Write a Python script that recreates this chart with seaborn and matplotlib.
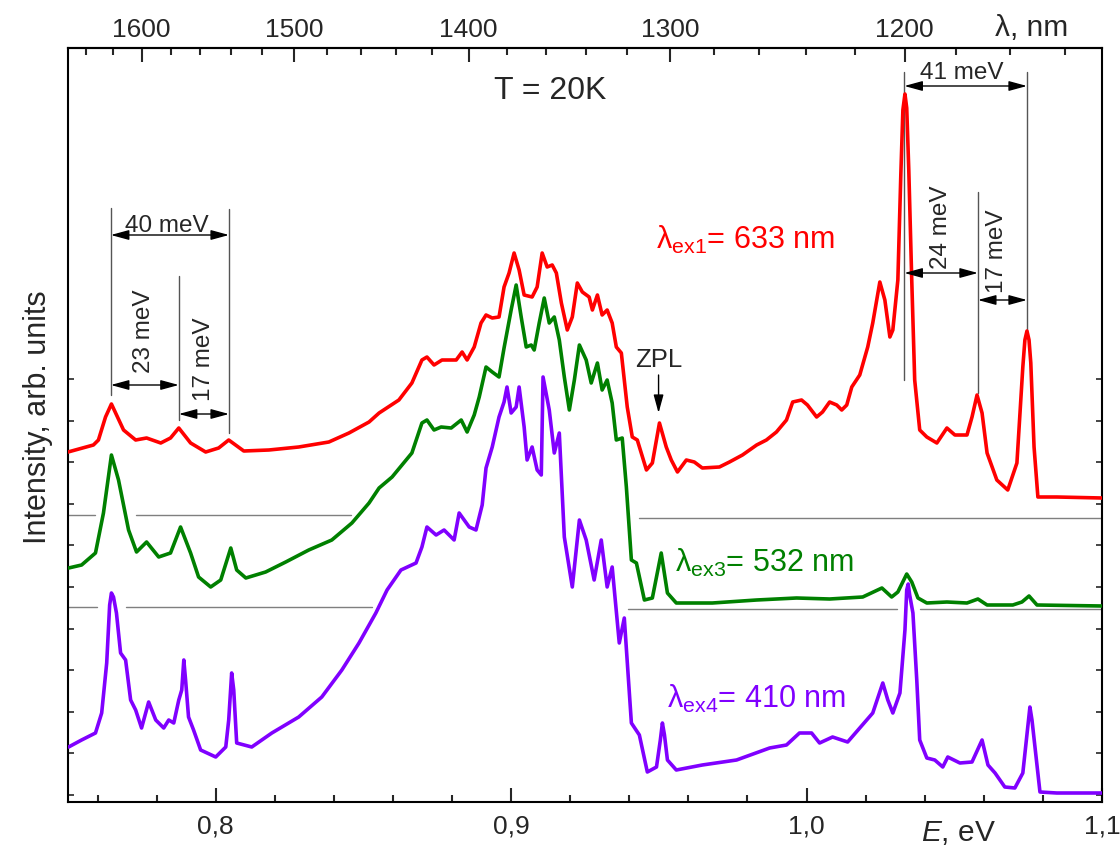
import numpy as np
import matplotlib
matplotlib.use("Agg")
import matplotlib.pyplot as plt
from matplotlib.ticker import FixedLocator, MultipleLocator, FuncFormatter, NullFormatter
import seaborn as sns

sns.set_style("ticks")
plt.rcParams['font.family'] = ['Liberation Sans', 'DejaVu Sans']
plt.rcParams['mathtext.fontset'] = 'custom'
plt.rcParams['mathtext.rm'] = 'Liberation Sans'
plt.rcParams['mathtext.it'] = 'Liberation Sans:italic'

# PL spectra, energy in eV, intensity in arb. units (curves already shifted)
energy_633 = [0.7500, 0.7586, 0.7603, 0.7627, 0.7647, 0.7688, 0.7729, 0.7766, 0.7814, 0.7847,
              0.7875, 0.7915, 0.7966, 0.8010, 0.8044, 0.8095, 0.8180, 0.8281, 0.8383, 0.8451,
              0.8519, 0.8553, 0.8620, 0.8664, 0.8698, 0.8715, 0.8739, 0.8766, 0.8814, 0.8834,
              0.8851, 0.8875, 0.8898, 0.8915, 0.8936, 0.8959, 0.8976, 0.8993, 0.9010, 0.9027,
              0.9044, 0.9071, 0.9088, 0.9105, 0.9122, 0.9139, 0.9153, 0.9170, 0.9190, 0.9207,
              0.9224, 0.9241, 0.9264, 0.9275, 0.9292, 0.9308, 0.9325, 0.9342, 0.9356, 0.9373,
              0.9393, 0.9410, 0.9427, 0.9458, 0.9478, 0.9502, 0.9525, 0.9542, 0.9563, 0.9593,
              0.9620, 0.9647, 0.9705, 0.9739, 0.9783, 0.9831, 0.9864, 0.9898, 0.9932, 0.9953,
              0.9983, 1.0003, 1.0034, 1.0054, 1.0078, 1.0102, 1.0119, 1.0136, 1.0153, 1.0180,
              1.0207, 1.0224, 1.0248, 1.0265, 1.0282, 1.0292, 1.0309, 1.0319, 1.0326, 1.0333,
              1.0339, 1.0346, 1.0356, 1.0366, 1.0383, 1.0407, 1.0441, 1.0475, 1.0502, 1.0543,
              1.0560, 1.0577, 1.0594, 1.0611, 1.0644, 1.0681, 1.0712, 1.0732, 1.0739, 1.0746,
              1.0753, 1.0759, 1.0770, 1.0783, 1.0847, 1.1000]
int_633 = [35.0, 35.7, 36.2, 38.5, 39.8, 37.2, 36.2, 36.4, 35.9, 36.4,
           37.4, 35.9, 35.0, 35.4, 36.2, 35.1, 35.2, 35.5, 36.0, 36.9,
           38.0, 38.9, 40.2, 41.9, 44.2, 44.5, 43.7, 44.2, 44.2, 45.0,
           44.2, 45.5, 47.9, 48.7, 48.4, 48.5, 51.5, 52.9, 54.9, 53.2,
           50.7, 50.5, 51.5, 54.9, 53.5, 53.7, 52.9, 49.9, 47.2, 48.5,
           51.9, 51.0, 50.5, 49.2, 50.7, 48.7, 49.2, 47.9, 45.5, 44.9,
           39.5, 36.5, 36.2, 33.2, 33.9, 37.9, 35.5, 34.2, 33.0, 34.2,
           34.0, 33.4, 33.5, 34.0, 34.7, 35.7, 36.2, 37.0, 38.2, 40.0,
           40.2, 39.7, 38.5, 39.0, 40.0, 39.7, 39.2, 39.7, 41.5, 42.7,
           45.5, 47.9, 52.0, 50.2, 46.5, 47.2, 52.2, 62.7, 69.2, 70.8,
           69.4, 63.2, 52.2, 42.2, 37.2, 36.5, 35.9, 37.4, 36.7, 36.7,
           38.5, 40.7, 38.9, 34.9, 32.2, 31.2, 33.9, 43.5, 46.2, 47.1,
           46.2, 43.9, 35.5, 30.5, 30.5, 30.4]

energy_532 = [0.7502, 0.7546, 0.7593, 0.7620, 0.7647, 0.7671, 0.7705, 0.7732, 0.7766, 0.7807,
              0.7847, 0.7881, 0.7915, 0.7942, 0.7983, 0.8017, 0.8051, 0.8071, 0.8102, 0.8169,
              0.8237, 0.8315, 0.8393, 0.8461, 0.8519, 0.8553, 0.8597, 0.8664, 0.8698, 0.8715,
              0.8739, 0.8763, 0.8797, 0.8831, 0.8851, 0.8875, 0.8892, 0.8915, 0.8936, 0.8959,
              0.8976, 0.9000, 0.9017, 0.9034, 0.9051, 0.9068, 0.9078, 0.9095, 0.9112, 0.9129,
              0.9146, 0.9163, 0.9180, 0.9197, 0.9214, 0.9231, 0.9254, 0.9271, 0.9292, 0.9308,
              0.9325, 0.9342, 0.9356, 0.9376, 0.9390, 0.9407, 0.9424, 0.9451, 0.9478, 0.9508,
              0.9529, 0.9559, 0.9681, 0.9831, 0.9966, 1.0078, 1.0190, 1.0255, 1.0288, 1.0309,
              1.0339, 1.0356, 1.0377, 1.0407, 1.0475, 1.0543, 1.0580, 1.0611, 1.0698, 1.0729,
              1.0753, 1.0780, 1.1000]
int_532 = [23.4, 23.7, 24.9, 28.9, 34.7, 32.2, 27.2, 25.0, 26.0, 24.5,
           24.9, 27.5, 24.9, 22.5, 21.5, 22.2, 25.4, 23.2, 22.4, 23.0,
           24.0, 25.2, 26.2, 27.9, 29.9, 31.4, 32.5, 34.9, 37.9, 38.2,
           37.2, 37.5, 37.4, 38.2, 37.0, 38.7, 40.5, 43.5, 43.0, 42.5,
           45.4, 49.2, 51.7, 48.5, 45.5, 45.7, 45.2, 47.9, 50.4, 47.9,
           48.5, 46.2, 42.5, 39.2, 42.2, 45.7, 44.2, 41.9, 43.9, 41.2,
           42.2, 39.9, 36.2, 36.4, 31.5, 24.2, 23.9, 20.2, 20.4, 24.9,
           20.9, 19.9, 19.9, 20.2, 20.4, 20.3, 20.5, 21.4, 20.5, 21.0,
           22.8, 22.0, 20.4, 19.9, 20.0, 19.9, 20.3, 19.7, 19.7, 20.0,
           20.6, 19.7, 19.6]

energy_410 = [0.7502, 0.7546, 0.7593, 0.7614, 0.7631, 0.7641, 0.7647, 0.7654, 0.7664, 0.7678,
              0.7695, 0.7712, 0.7729, 0.7749, 0.7773, 0.7797, 0.7824, 0.7841, 0.7858, 0.7875,
              0.7885, 0.7892, 0.7898, 0.7908, 0.7925, 0.7949, 0.8000, 0.8034, 0.8044, 0.8054,
              0.8061, 0.8071, 0.8122, 0.8190, 0.8281, 0.8359, 0.8427, 0.8485, 0.8542, 0.8580,
              0.8627, 0.8678, 0.8698, 0.8715, 0.8746, 0.8773, 0.8807, 0.8824, 0.8858, 0.8881,
              0.8902, 0.8915, 0.8936, 0.8959, 0.8976, 0.8986, 0.9000, 0.9017, 0.9027, 0.9044,
              0.9054, 0.9071, 0.9088, 0.9102, 0.9108, 0.9129, 0.9146, 0.9163, 0.9180, 0.9207,
              0.9231, 0.9254, 0.9281, 0.9305, 0.9325, 0.9342, 0.9366, 0.9383, 0.9407, 0.9434,
              0.9461, 0.9492, 0.9505, 0.9512, 0.9519, 0.9529, 0.9559, 0.9647, 0.9763, 0.9875,
              0.9932, 0.9976, 1.0017, 1.0044, 1.0088, 1.0139, 1.0180, 1.0224, 1.0258, 1.0275,
              1.0292, 1.0316, 1.0333, 1.0339, 1.0344, 1.0349, 1.0360, 1.0373, 1.0383, 1.0407,
              1.0434, 1.0461, 1.0478, 1.0519, 1.0560, 1.0594, 1.0614, 1.0638, 1.0671, 1.0705,
              1.0732, 1.0746, 1.0756, 1.0763, 1.0773, 1.0790, 1.0847, 1.1000]
int_410 = [5.5, 6.2, 6.9, 8.9, 13.9, 19.7, 20.9, 20.5, 18.9, 14.9,
           14.2, 10.2, 9.2, 7.4, 10.0, 8.2, 7.4, 8.2, 7.9, 10.2,
           11.2, 14.2, 12.2, 8.5, 7.2, 5.2, 4.5, 5.5, 8.2, 12.9,
           11.2, 5.9, 5.5, 6.9, 8.5, 10.5, 13.2, 15.9, 18.9, 21.2,
           23.2, 23.9, 25.5, 27.5, 26.7, 27.2, 26.2, 28.9, 27.5, 27.2,
           29.7, 33.4, 35.5, 38.5, 40.0, 41.5, 38.9, 39.5, 41.5, 37.5,
           34.2, 35.5, 33.2, 32.7, 42.5, 39.2, 34.9, 36.9, 26.5, 21.5,
           28.2, 26.2, 22.2, 26.2, 21.5, 23.5, 15.9, 18.4, 7.9, 6.7,
           3.0, 3.5, 6.2, 7.9, 6.7, 4.2, 3.2, 3.7, 4.2, 5.4,
           5.7, 6.9, 6.9, 5.9, 6.5, 6.0, 7.4, 8.9, 11.9, 10.2,
           8.9, 10.9, 17.2, 21.2, 21.8, 20.7, 18.9, 12.2, 6.2, 4.4,
           4.2, 3.5, 4.5, 3.9, 4.0, 6.2, 3.7, 2.9, 1.5, 1.4,
           2.9, 6.7, 9.5, 8.2, 5.5, 1.0, 0.9, 0.9]

# grey zero lines of the shifted spectra (segments with gaps)
base_start = [0.7500, 0.7729, 0.9434, 0.7500, 0.7698, 0.9397, 1.0383]
base_end = [0.7593, 0.8458, 1.1000, 0.7597, 0.8529, 1.0306, 1.1000]
base_level = [28.7, 28.7, 28.4, 19.5, 19.5, 19.3, 19.3]

# phonon replica spacing marks
vline_e = [0.7645, 0.8045, 0.7875, 1.0331, 1.0580, 1.0746]
vline_lo = [40.7, 36.9, 38.2, 42.2, 40.9, 47.0]
vline_hi = [59.4, 59.3, 52.6, 73.0, 61.0, 73.0]
arrow_e1 = [0.7645, 0.7645, 0.7875, 1.0331, 1.0331, 1.0580]
arrow_e2 = [0.8045, 0.7875, 0.8045, 1.0746, 1.0580, 1.0746]
arrow_level = [56.7, 41.7, 38.8, 71.6, 52.9, 50.2]
gap_text = ['40 meV', '23 meV', '17 meV', '41 meV', '24 meV', '17 meV']
gap_text_e = [0.7834, 0.7757, 0.7960, 1.0526, 1.0455, 1.0644]
gap_text_y = [57.0, 47.1, 44.3, 72.3, 57.5, 55.1]
gap_text_rot = [0, 90, 90, 0, 90, 90]

hc = 1239.84  # eV*nm

fig = plt.figure(figsize=(11.2, 8.47), dpi=100)
ax = fig.add_axes([68 / 1120, 1 - 802 / 847, 1034 / 1120, 754 / 847])

for s, e, l in zip(base_start, base_end, base_level):
    ax.plot([s, e], [l, l], color='#7f7f7f', lw=1.0, zorder=1)

for e, lo, hi in zip(vline_e, vline_lo, vline_hi):
    ax.plot([e, e], [lo, hi], color='#555555', lw=1.0, zorder=1)

sns.lineplot(x=energy_633, y=int_633, color='#ff0000', lw=2.6, ax=ax, sort=False, estimator=None, zorder=3)
sns.lineplot(x=energy_532, y=int_532, color='#008000', lw=2.6, ax=ax, sort=False, estimator=None, zorder=3)
sns.lineplot(x=energy_410, y=int_410, color='#8000ff', lw=2.6, ax=ax, sort=False, estimator=None, zorder=3)

arrow_kw = dict(arrowstyle='<|-|>,head_length=1.1,head_width=0.3', color='k', lw=1.0,
                mutation_scale=10, shrinkA=0, shrinkB=0)
for e1, e2, y in zip(arrow_e1, arrow_e2, arrow_level):
    ax.annotate('', xy=(e2, y), xytext=(e1, y), arrowprops=arrow_kw, zorder=4)
for t, x, y, r in zip(gap_text, gap_text_e, gap_text_y, gap_text_rot):
    if r == 0:
        ax.text(x, y, t, fontsize=17.5, ha='center', va='baseline', zorder=5)
    else:
        ax.text(x, y, t, fontsize=17.5, ha='center', va='center', rotation=90, zorder=5)

# ZPL mark
ax.text(0.9499, 44.2, 'ZPL', fontsize=18.5, ha='center', va='center')
ax.annotate('', xy=(0.9499, 38.9), xytext=(0.9499, 42.7),
            arrowprops=dict(arrowstyle='-|>,head_length=1.1,head_width=0.3', color='k', lw=1.0,
                            mutation_scale=10, shrinkA=0, shrinkB=0))

ax.text(0.9131, 71.1, 'T = 20K', fontsize=23, ha='center', va='center')
ax.text(0.9492, 55.3, r'$\mathregular{λ_{ex1}}$= 633 nm', fontsize=22, color='#ff0000', ha='left', va='baseline')
ax.text(0.9553, 23.0, r'$\mathregular{λ_{ex3}}$= 532 nm', fontsize=22, color='#008000', ha='left', va='baseline')
ax.text(0.9526, 9.4, r'$\mathregular{λ_{ex4}}$= 410 nm', fontsize=22, color='#8000ff', ha='left', va='baseline')

ax.set_xlim(0.75, 1.1)
ax.set_ylim(0, 75.4)
ax.set_xlabel('')
ax.set_ylabel('')
ax.xaxis.set_major_locator(FixedLocator([0.8, 0.9, 1.0, 1.1]))
ax.xaxis.set_minor_locator(MultipleLocator(0.02))
ax.xaxis.set_major_formatter(FuncFormatter(lambda v, p: f"{v:.1f}".replace('.', ',')))
ax.yaxis.set_major_locator(FixedLocator(np.arange(0.7, 43, 4.16)))
ax.yaxis.set_major_formatter(NullFormatter())
ax.tick_params(axis='x', which='major', direction='in', length=10, width=1.5, labelsize=19, pad=9, top=False)
ax.tick_params(axis='x', which='minor', direction='in', length=5, width=1.5, top=False)
ax.tick_params(axis='y', which='both', direction='in', length=4, width=1.2, left=True, right=True)
for sp in ax.spines.values():
    sp.set_linewidth(1.5)
    sp.set_color('k')

secax = ax.secondary_xaxis('top', functions=(lambda e: hc / np.maximum(e, 1e-6),
                                            lambda w: hc / np.maximum(w, 1e-6)))
secax.xaxis.set_major_locator(FixedLocator([1600, 1500, 1400, 1300, 1200]))
secax.xaxis.set_minor_locator(FixedLocator(np.arange(1140, 1661, 20)))
secax.tick_params(axis='x', which='major', direction='in', length=10, width=1.5, labelsize=19, pad=4)
secax.tick_params(axis='x', which='minor', direction='in', length=5, width=1.5)
secax.spines['top'].set_linewidth(1.5)

ax.text(0.861, -0.041, r'$\mathit{E}$, eV', transform=ax.transAxes, fontsize=21.5, ha='center', va='center')
ax.text(0.932, 1.0265, 'λ, nm', transform=ax.transAxes, fontsize=21.5, ha='center', va='center')
ax.text(-0.029, 0.51, 'Intensity, arb. units', transform=ax.transAxes, fontsize=22,
        ha='center', va='center', rotation=90)

fig.savefig('out.png', dpi=100)
